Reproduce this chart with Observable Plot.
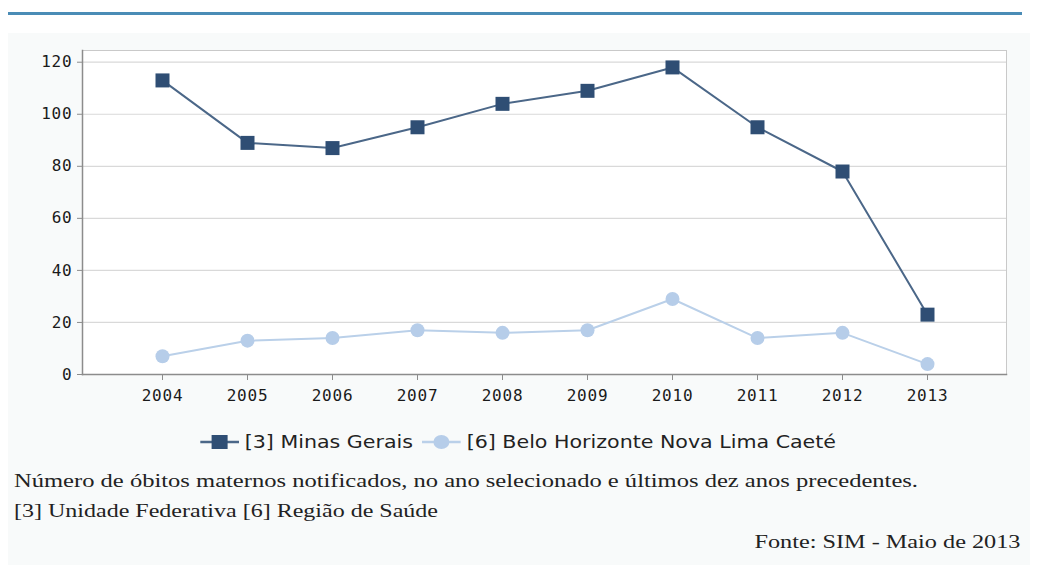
<!DOCTYPE html>
<html>
<head>
<meta charset="utf-8">
<script src="https://cdn.jsdelivr.net/npm/d3@7"></script>
<script src="https://cdn.jsdelivr.net/npm/@observablehq/plot@0.6"></script>
<style>
  html, body { margin: 0; padding: 0; background: #ffffff; }
  body { width: 1037px; height: 572px; position: relative; overflow: hidden; }
  #topline { position: absolute; top: 12px; left: 8px; width: 1014px; height: 3px; background: #4a8cb6; }
  #panel { position: absolute; top: 33px; left: 8px; width: 1022px; height: 532px; background: #f8fafa; }
  #chart { position: absolute; top: 33px; left: 0; }
  #legend { position: absolute; top: 431px; left: 0; width: 1037px; display: flex; justify-content: center; align-items: center;
            font-family: "DejaVu Sans", sans-serif; font-size: 18px; color: #222; }
  #legend .inner { display: flex; align-items: center; transform-origin: center center; }
  #legend .item { display: flex; align-items: center; margin: 0 4px; }
  #legend svg { margin-right: 5px; }
  .cap { position: absolute; font-family: "Liberation Serif", "Times New Roman", serif; font-size: 19px; color: #222; white-space: nowrap; }
</style>
</head>
<body>
<div id="topline"></div>
<div id="panel"></div>
<div id="chart"></div>
<div id="legend"><div class="inner"></div></div>
<div class="cap" id="cap1" style="left:14px; top:470px;"></div>
<div class="cap" id="cap2" style="left:14px; top:500px;"></div>
<div class="cap" id="cap3" style="right:17px; top:531px;"></div>
<script>
// ---- data ----
const years = [2004, 2005, 2006, 2007, 2008, 2009, 2010, 2011, 2012, 2013];
const minasGerais = [113, 89, 87, 95, 104, 109, 118, 95, 78, 23];
const beloHorizonte = [7, 13, 14, 17, 16, 17, 29, 14, 16, 4];
const seriesNames = ["[3] Minas Gerais", "[6] Belo Horizonte Nova Lima Caeté"];
const yTicks = [0, 20, 40, 60, 80, 100, 120];
const captionLines = [
  "Número de óbitos maternos notificados, no ano selecionado e últimos dez anos precedentes.",
  "[3] Unidade Federativa [6] Região de Saúde",
  "Fonte: SIM - Maio de 2013"
];

const colMG = "#2f4e74", lineMG = "#4b6788";
const colBH = "#b6cde9", lineBH = "#bad0e9";

const mg = years.map((y, i) => ({year: y, value: minasGerais[i]}));
const bh = years.map((y, i) => ({year: y, value: beloHorizonte[i]}));

const tickFont = {fontFamily: "DejaVu Sans Mono, monospace", fontSize: 16};

const plot = Plot.plot({
  width: 1037,
  height: 390,
  marginTop: 17,
  marginBottom: 49,
  marginLeft: 82,
  marginRight: 31,
  style: {background: "transparent", color: "#1a1a1a"},
  x: {type: "point", domain: years, padding: 0.92},
  y: {domain: [0, 124.5]},
  marks: [
    Plot.frame({fill: "white", stroke: "#c9c9c9"}),
    Plot.gridY(yTicks.slice(1), {stroke: "#d9d9d9", strokeOpacity: 1, strokeWidth: 1.2}),
    Plot.frame({anchor: "left", stroke: "#8c8c8c", strokeWidth: 1.5}),
    Plot.frame({anchor: "bottom", stroke: "#8c8c8c", strokeWidth: 1.5}),
    Plot.axisY({ticks: yTicks, tickSize: 5, tickPadding: 5, stroke: "#8c8c8c", label: null, ...tickFont}),
    Plot.axisX({tickSize: 6, tickPadding: 9, stroke: "#8c8c8c", label: null, tickFormat: d => String(d), ...tickFont}),
    Plot.line(bh, {x: "year", y: "value", stroke: lineBH, strokeWidth: 2}),
    Plot.dot(bh, {x: "year", y: "value", r: 7, fill: colBH, stroke: "none"}),
    Plot.line(mg, {x: "year", y: "value", stroke: lineMG, strokeWidth: 2}),
    Plot.dot(mg, {x: "year", y: "value", r: 7.9, symbol: "square", fill: colMG, stroke: "none"})
  ]
});
d3.select(plot).selectAll("[aria-label='x-axis tick label'] text, [aria-label='y-axis tick label'] text")
  .style("letter-spacing", "0.8px");
document.getElementById("chart").appendChild(plot);

// ---- legend ----
const legend = d3.select("#legend .inner");
[[seriesNames[0], colMG, lineMG, "square"], [seriesNames[1], colBH, lineBH, "circle"]].forEach(([name, fill, stroke, shape]) => {
  const it = legend.append("div").attr("class", "item");
  const sw = it.append("svg").attr("width", 34).attr("height", 16);
  sw.append("line").attr("x1", 0).attr("x2", 34).attr("y1", 8).attr("y2", 8).attr("stroke", stroke).attr("stroke-width", 2.5);
  if (shape === "square") sw.append("rect").attr("x", 10).attr("y", 1).attr("width", 14).attr("height", 14).attr("fill", fill);
  else sw.append("circle").attr("cx", 17).attr("cy", 8).attr("r", 7).attr("fill", fill);
  it.append("span").text(name);
});
{
  const inner = document.querySelector("#legend .inner");
  const w = inner.getBoundingClientRect().width;
  inner.style.transform = `scaleX(${645 / w})`;
}

// ---- captions (stretched horizontally like the reference) ----
const capTargets = [904, 424, 266];
["cap1", "cap2", "cap3"].forEach((id, i) => {
  const el = document.getElementById(id);
  el.textContent = captionLines[i];
  const w = el.getBoundingClientRect().width;
  el.style.transformOrigin = i === 2 ? "right center" : "left center";
  el.style.transform = `scaleX(${capTargets[i] / w})`;
});
</script>
</body>
</html>
